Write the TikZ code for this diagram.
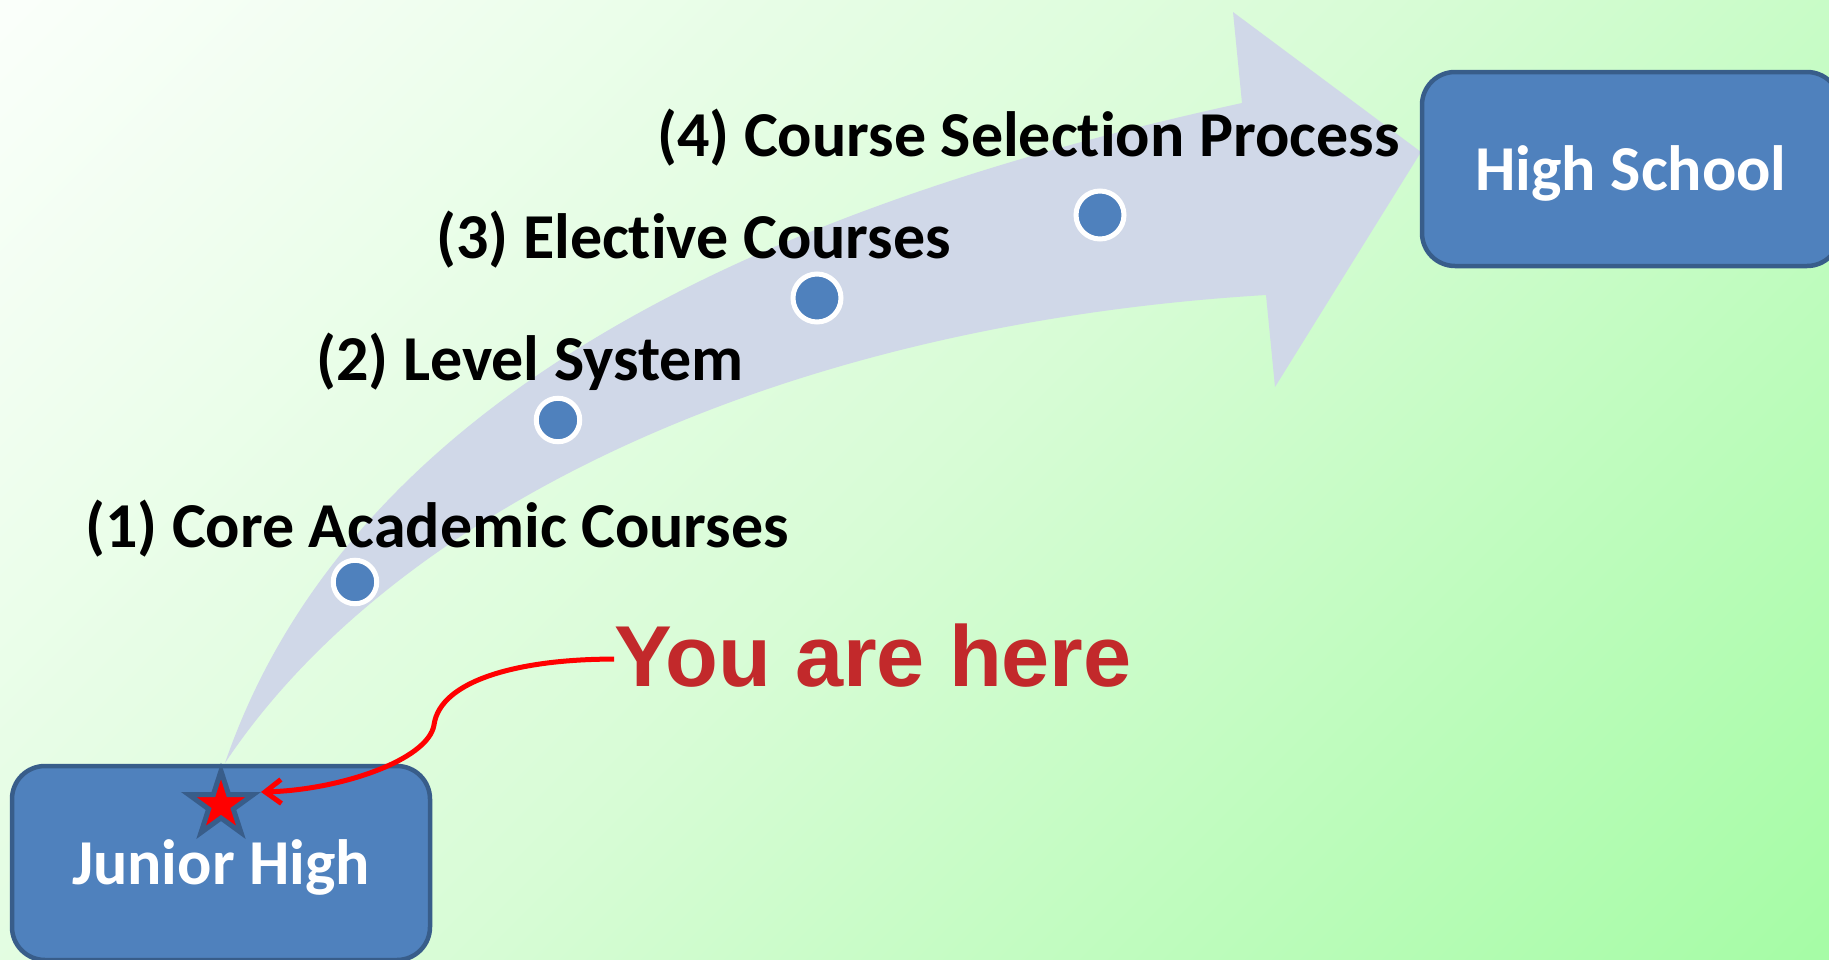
\documentclass[tikz,border=0pt]{standalone}
\usepackage{fontspec}
\setmainfont{Carlito}[Ligatures=NoCommon]
\newfontfamily\arialfont{Liberation Sans}
\usetikzlibrary{shapes.geometric,arrows.meta}
\definecolor{boxfill}{HTML}{4F81BD}
\definecolor{boxdraw}{HTML}{385D8A}
\definecolor{arrowfill}{HTML}{D0D8E8}
\definecolor{youred}{HTML}{C2292B}
\definecolor{bgA}{HTML}{FAFFFA}
\definecolor{bgB}{HTML}{D8FCD6}
\definecolor{bgC}{HTML}{A6FCA6}
\pgfdeclarehorizontalshading{bgshade}{100bp}{color(0bp)=(bgA); color(15bp)=(bgA); color(50bp)=(bgB); color(85bp)=(bgC); color(100bp)=(bgC)}
\tikzset{
  lbl/.style={anchor=base west, inner sep=0, font=\fontsize{64}{64}\selectfont\bfseries, text=black},
  box/.style={draw=boxdraw, fill=boxfill, line width=4.5, rounded corners=33, minimum width=418, minimum height=194, inner sep=0, text=white, font=\fontsize{64}{64}\selectfont\bfseries, text height=42, text depth=0},
  dot/.style={circle, fill=boxfill, draw=white, line width=5, inner sep=0},
  yt/.style={anchor=base west, inner sep=0, font=\arialfont\bfseries\fontsize{86.5}{86.5}\selectfont},
  conn/.style={draw=red, line width=5, -{Straight Barb[length=16pt,width=24pt]}},
  starmark/.style={star, star points=5, star point ratio=2.618, minimum size=68, inner sep=0, fill=red, draw=boxdraw, line width=5, line join=miter}
}
\begin{document}
\begin{tikzpicture}[x=1pt,y=-1pt]
\useasboundingbox (0,0) rectangle (1829,959);
\clip (0,0) rectangle (1829,959);
\shade[shading=bgshade, shading angle=-45] (0,0) rectangle (1829,959);

% big curved arrow
\fill[arrowfill] (225,763) .. controls (360,370) and (820,195) .. (1242,103)
  -- (1233,12) -- (1421,152) -- (1275,387) -- (1266,295)
  .. controls (770,325) and (390,515) .. (225,763) -- cycle;

% dots
\node[dot, minimum size=43.5] (d1) at (355,582) {};
\node[dot, minimum size=43.5] (d2) at (558,420) {};
\node[dot, minimum size=48] (d3) at (817,298) {};
\node[dot, minimum size=48] (d4) at (1100,215) {};

% labels
\node[lbl] (l1) at (85,547) {(1) Core Academic Courses};
\node[lbl] (l2) at (316,380) {(2) Level System};
\node[lbl] (l3) at (436,258) {(3) Elective Courses};
\node[lbl] (l4) at (657,156) {(4) Course Selection Process};

% boxes
\node[box] (jh) at (221,863) {Junior High};
\node[box] (hs) at (1631,169) {High School};

% star
\node[starmark] (star) at (221,805) {};

% you are here
\node[yt, text=youred] (you) at (614,686) {You are here};

% connector
\draw[conn] ([yshift=-4pt]you.west) .. controls (520,659) and (440,680) .. (434,725)
  .. controls (428,760) and (340,790) .. (star.outer point 5);
\end{tikzpicture}
\end{document}
